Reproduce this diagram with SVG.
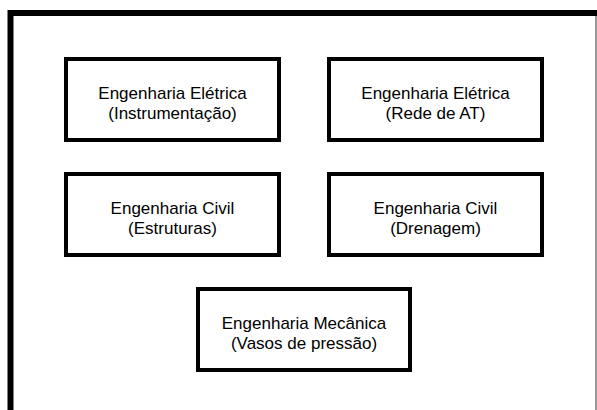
<svg xmlns="http://www.w3.org/2000/svg" width="597" height="410" viewBox="0 0 597 410">
<style>
.box{fill:#fff;stroke:#000;stroke-width:4}
.t{font-family:"Liberation Sans",Arial,sans-serif;font-size:17px;fill:#000;text-anchor:middle}
</style>
<rect width="597" height="410" fill="#fff"/>
<g id="frame">
<line x1="596" y1="13" x2="596" y2="410" stroke="#777" stroke-width="1.5"/>
<path d="M10.5 410 V13 H597" fill="none" stroke="#000" stroke-width="6"/>
</g>
<g id="connectors"></g>
<g id="n1">
<rect class="box" x="66" y="59" width="213" height="81"/>
<text class="t" x="172.5" y="99">Engenharia Elétrica</text>
<text class="t" x="172.5" y="119">(Instrumentação)</text>
</g>
<g id="n2">
<rect class="box" x="329" y="59" width="213" height="81"/>
<text class="t" x="435.5" y="99">Engenharia Elétrica</text>
<text class="t" x="435.5" y="119">(Rede de AT)</text>
</g>
<g id="n3">
<rect class="box" x="66" y="174" width="213" height="81"/>
<text class="t" x="172.5" y="214">Engenharia Civil</text>
<text class="t" x="172.5" y="234">(Estruturas)</text>
</g>
<g id="n4">
<rect class="box" x="329" y="174" width="213" height="81"/>
<text class="t" x="435.5" y="214">Engenharia Civil</text>
<text class="t" x="435.5" y="234">(Drenagem)</text>
</g>
<g id="n5">
<rect class="box" x="198" y="289" width="212" height="81"/>
<text class="t" x="304" y="329">Engenharia Mecânica</text>
<text class="t" x="304" y="349">(Vasos de pressão)</text>
</g>
</svg>
